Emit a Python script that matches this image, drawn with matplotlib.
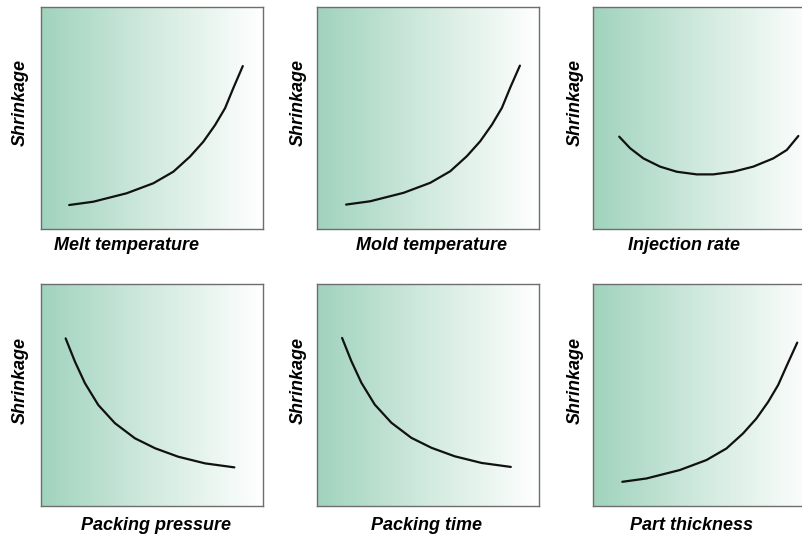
import numpy as np
import matplotlib
matplotlib.use("Agg")
import matplotlib.pyplot as plt
from matplotlib.colors import LinearSegmentedColormap

# curve points (axes run 0..10 on both sides)
melt_x = [1.27, 2.36, 3.86, 5.06, 5.96, 6.71, 7.31, 7.84, 8.29, 8.66, 9.09]
melt_y = [1.08, 1.23, 1.61, 2.06, 2.58, 3.26, 3.93, 4.68, 5.44, 6.34, 7.34]

mold_x = [1.31, 2.40, 3.90, 5.10, 6.00, 6.75, 7.35, 7.88, 8.33, 8.70, 9.14]
mold_y = [1.10, 1.25, 1.63, 2.08, 2.60, 3.28, 3.95, 4.70, 5.46, 6.36, 7.36]

inj_x = [1.18, 1.67, 2.27, 3.02, 3.77, 4.67, 5.42, 6.32, 7.22, 8.12, 8.73, 9.25]
inj_y = [4.16, 3.64, 3.18, 2.81, 2.58, 2.46, 2.46, 2.58, 2.81, 3.18, 3.56, 4.19]

pres_x = [1.11, 1.53, 1.98, 2.58, 3.33, 4.23, 5.14, 6.18, 7.39, 8.71]
pres_y = [7.55, 6.50, 5.53, 4.55, 3.73, 3.05, 2.60, 2.22, 1.92, 1.74]

ptime_x = [1.13, 1.55, 2.00, 2.60, 3.35, 4.25, 5.16, 6.20, 7.41, 8.73]
ptime_y = [7.57, 6.52, 5.55, 4.57, 3.75, 3.07, 2.62, 2.24, 1.94, 1.76]

thick_x = [1.32, 2.41, 3.91, 5.11, 6.01, 6.76, 7.36, 7.89, 8.34, 8.74, 9.20]
thick_y = [1.09, 1.24, 1.62, 2.07, 2.59, 3.27, 3.94, 4.69, 5.45, 6.35, 7.36]

x_labels = ["Melt temperature", "Mold temperature", "Injection rate",
            "Packing pressure", "Packing time", "Part thickness"]
y_label = "Shrinkage"

curves = [(melt_x, melt_y), (mold_x, mold_y), (inj_x, inj_y),
          (pres_x, pres_y), (ptime_x, ptime_y), (thick_x, thick_y)]

W, H = 803, 537
fig = plt.figure(figsize=(W / 100, H / 100), dpi=100)
fig.patch.set_facecolor("white")

cmap = LinearSegmentedColormap.from_list("fade", ["#a0d3bd", "#d2eadf", "#ffffff"])
grad = np.linspace(0, 1, 256).reshape(1, -1)

lefts = [41, 317, 593]
tops = [7, 284]
side = 222
ylab_x = [20, 298, 575]
xlab_x = [[127, 432, 684], [156, 427, 692]]
xlab_y = [245, 525]
ylab_y = [102, 380]

font = dict(family="Liberation Sans", weight="bold", style="italic", size=13)

for i, (cx, cy) in enumerate(curves):
    r, c = divmod(i, 3)
    ax = fig.add_axes([lefts[c] / W, 1 - (tops[r] + side) / H, side / W, side / H])
    ax.imshow(grad, cmap=cmap, extent=[0, 10, 0, 10], aspect="auto", zorder=0)
    ax.plot(cx, cy, color="#111111", lw=1.6, solid_capstyle="round",
            solid_joinstyle="round", zorder=2)
    ax.set_xlim(0, 10)
    ax.set_ylim(0, 10)
    ax.set_xticks([])
    ax.set_yticks([])
    for s in ax.spines.values():
        s.set_color("#6e6e6e")
        s.set_linewidth(1.0)
    fig.text(xlab_x[r][c] / W, 1 - xlab_y[r] / H, x_labels[i],
             ha="center", va="center", **font)
    fig.text(ylab_x[c] / W, 1 - ylab_y[r] / H, y_label, rotation=90,
             ha="center", va="center", **font)

fig.savefig("out.png", dpi=100)
